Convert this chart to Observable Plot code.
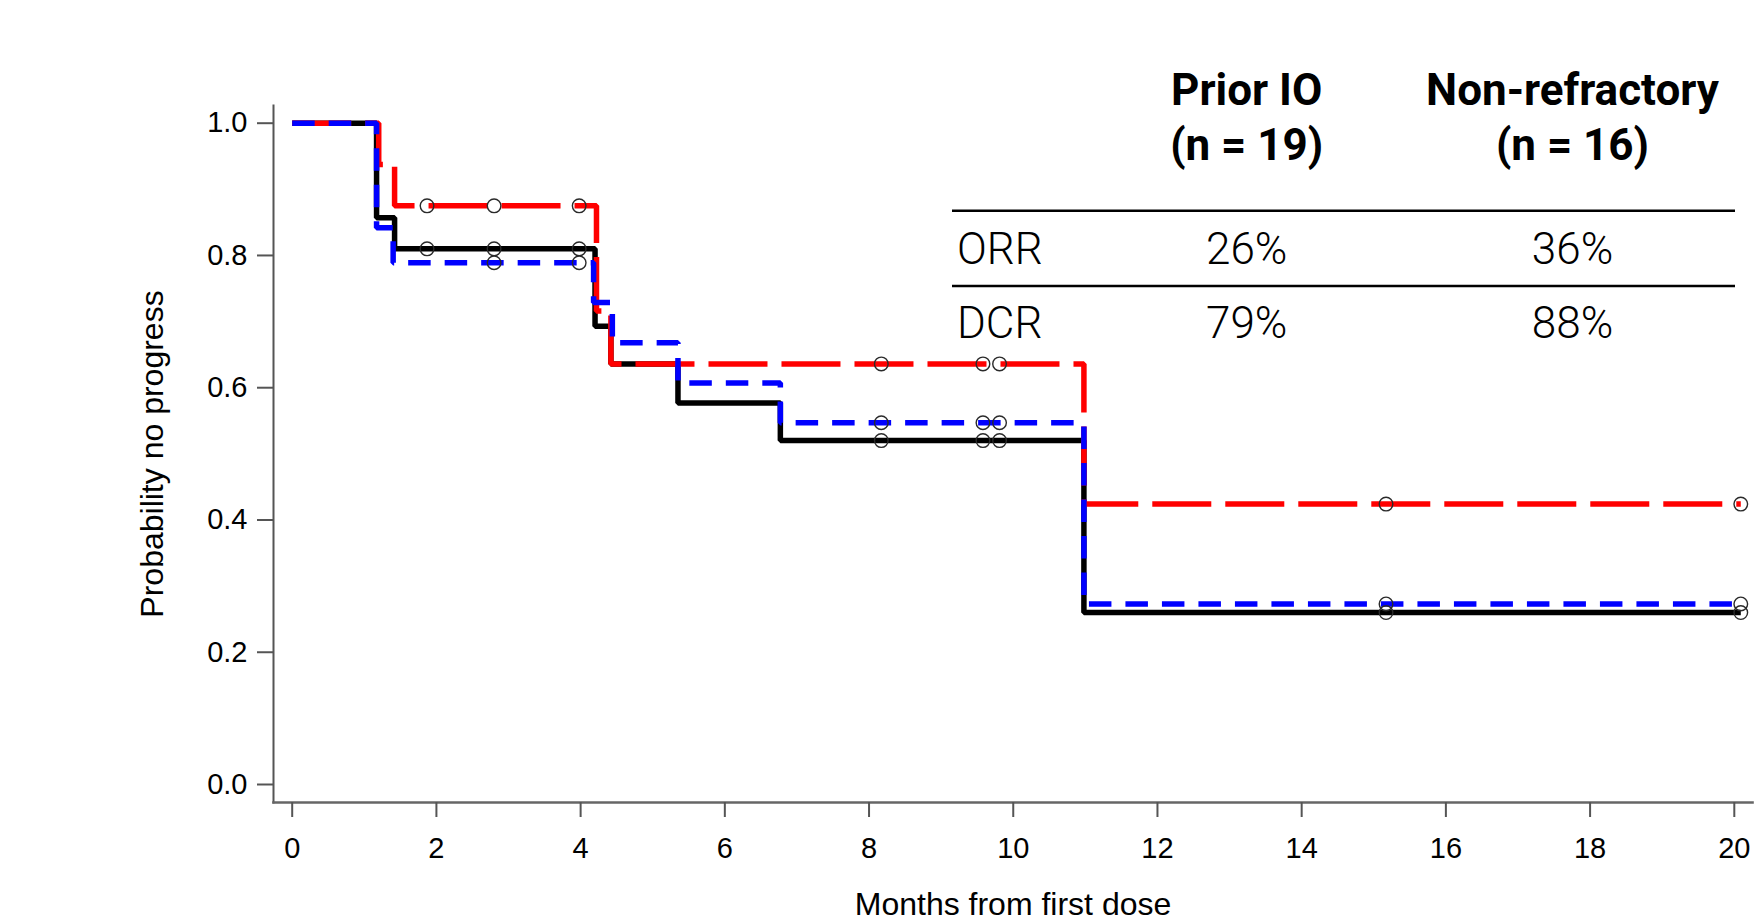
<!DOCTYPE html>
<html><head><meta charset="utf-8">
<script src="https://cdn.jsdelivr.net/npm/d3@7"></script>
<script src="https://cdn.jsdelivr.net/npm/@observablehq/plot@0.6"></script>
<style>
html,body{margin:0;padding:0;background:#fff;}
#wrap{position:relative;width:1763px;height:923px;overflow:hidden;background:#fff;}
#wrap svg{display:block;}
#tbl{position:absolute;left:0;top:0;}
</style></head><body><div id="wrap"></div>
<script>
// ---- data ----
const xTitle = "Months from first dose";
const yTitle = "Probability no progress";
const xTicks = [0, 2, 4, 6, 8, 10, 12, 14, 16, 18, 20];
const yTicks = [0, 0.2, 0.4, 0.6, 0.8, 1.0];

// black solid curve
const overallTimes = [0, 1.17, 1.42, 4.2, 4.42, 5.35, 6.77, 10.98, 20.09];
const overallProb  = [1, 0.857, 0.81, 0.693, 0.636, 0.577, 0.52, 0.26, 0.26];
const overallCensorTimes = [1.87, 2.8, 3.98, 8.17, 9.58, 9.81, 15.17, 20.09];
const overallCensorProb  = [0.81, 0.81, 0.81, 0.52, 0.52, 0.52, 0.26, 0.26];

// red long-dashed curve
const nonRefTimes = [0, 1.2, 1.42, 4.22, 4.42, 10.98, 20.09];
const nonRefProb  = [1, 0.9375, 0.875, 0.716, 0.636, 0.424, 0.424];
const nonRefCensorTimes = [1.87, 2.8, 3.98, 8.17, 9.58, 9.81, 15.17, 20.09];
const nonRefCensorProb  = [0.875, 0.875, 0.875, 0.636, 0.636, 0.636, 0.424, 0.424];

// blue short-dashed curve
const priorTimes = [0, 1.17, 1.4, 4.18, 4.44, 5.35, 6.77, 10.98, 20.09];
const priorProb  = [1, 0.842, 0.789, 0.729, 0.668, 0.607, 0.547, 0.273, 0.273];
const priorCensorTimes = [2.8, 3.98, 8.17, 9.58, 9.81, 15.17, 20.09];
const priorCensorProb  = [0.789, 0.789, 0.547, 0.547, 0.547, 0.273, 0.273];

// summary table
const tableCols = ["Prior IO", "Non-refractory"];
const tableN = [19, 16];
const tableRows = ["ORR", "DCR"];
const orrValues = ["26%", "36%"];
const dcrValues = ["79%", "88%"];

const zip = (t, p) => t.map((v, i) => ({t: v, p: p[i]}));
const overall = zip(overallTimes, overallProb);
const nonRef = zip(nonRefTimes, nonRefProb);
const prior = zip(priorTimes, priorProb);
const overallC = zip(overallCensorTimes, overallCensorProb);
const nonRefC = zip(nonRefCensorTimes, nonRefCensorProb);
const priorC = zip(priorCensorTimes, priorCensorProb);

const lineBase = {x: "t", y: "p", curve: "step-after", strokeWidth: 5.5, strokeLinecap: "butt", strokeLinejoin: "miter"};
const dotBase = {x: "t", y: "p", r: 6.8, stroke: "#2a2a2a", strokeWidth: 1.4, fill: "none"};

const chart = Plot.plot({
  width: 1763,
  height: 923,
  marginLeft: 273,
  marginRight: 11,
  marginTop: 105,
  marginBottom: 121,
  style: {fontFamily: "'Liberation Sans', Arial, sans-serif", fontSize: "29px", background: "#fff", color: "#000", overflow: "visible"},
  x: {domain: [0, 20], insetLeft: 18.7, insetRight: 18.2},
  y: {domain: [0, 1], insetTop: 17.7, insetBottom: 18},
  marks: [
    Plot.frame({anchor: "left", stroke: "#555", strokeWidth: 2}),
    Plot.frame({anchor: "bottom", stroke: "#666", strokeWidth: 2.6}),
    Plot.axisX({ticks: xTicks, tickSize: 15, tickPadding: 20, stroke: "#555", strokeWidth: 2, fill: "#000", label: null}),
    Plot.axisY({ticks: yTicks, tickFormat: d3.format(".1f"), tickSize: 16, tickPadding: 10, stroke: "#555", strokeWidth: 2, fill: "#000", label: null}),
    Plot.text([xTitle], {frameAnchor: "bottom", dy: 112, lineAnchor: "bottom", textAnchor: "middle", fontSize: 32, fill: "#000"}),
    Plot.text([yTitle], {frameAnchor: "left", dx: -133, rotate: -90, lineAnchor: "top", textAnchor: "middle", fontSize: 32, fill: "#000"}),
    Plot.line(overall, {...lineBase, stroke: "#000"}),
    Plot.line(nonRef, {...lineBase, stroke: "#ff0000", strokeDasharray: "59,14"}),
    Plot.line(prior, {...lineBase, stroke: "#0000ff", strokeDasharray: "22.5,14"}),
    Plot.dot(overallC, dotBase),
    Plot.dot(nonRefC, dotBase),
    Plot.dot(priorC, dotBase)
  ]
});

const wrap = document.getElementById("wrap");
wrap.appendChild(chart);

// ---- summary table overlay ----
const colX = [1246.7, 1572.5];
const tbl = d3.create("svg").attr("id", "tbl").attr("width", 1763).attr("height", 923)
  .style("font-family", "Roboto, 'Noto Sans', sans-serif");
const hdr = tbl.append("g").attr("font-size", 44).attr("font-weight", 700).attr("text-anchor", "middle").attr("fill", "#000");
tableCols.forEach((c, i) => {
  hdr.append("text").attr("x", colX[i]).attr("y", 105).text(c);
  hdr.append("text").attr("x", colX[i]).attr("y", 160).text(`(n = ${tableN[i]})`);
});
[210.7, 286].forEach(y => tbl.append("line").attr("x1", 952).attr("x2", 1735).attr("y1", y).attr("y2", y)
  .attr("stroke", "#000").attr("stroke-width", 2.6));
const body = tbl.append("g").attr("font-size", 44).attr("font-weight", 300).attr("fill", "#000");
const rowY = [264.3, 338.3];
const rowVals = [orrValues, dcrValues];
tableRows.forEach((r, j) => {
  body.append("text").attr("x", 957).attr("y", rowY[j]).text(r);
  rowVals[j].forEach((v, i) => body.append("text").attr("x", colX[i]).attr("y", rowY[j]).attr("text-anchor", "middle").text(v));
});
wrap.appendChild(tbl.node());
</script>
</body></html>
